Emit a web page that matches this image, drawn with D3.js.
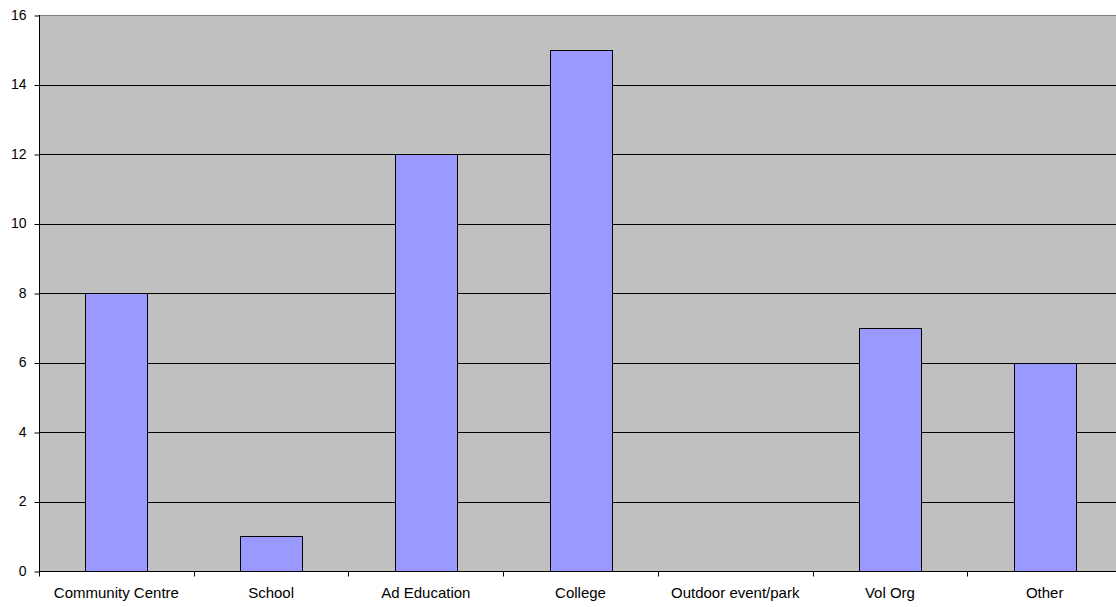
<!DOCTYPE html>
<html><head><meta charset="utf-8">
<script src="https://cdn.jsdelivr.net/npm/d3@7"></script>
<style>body{margin:0;background:#fff;}svg{display:block;}text{font-family:Arial,"Liberation Sans",sans-serif;}</style>
</head><body><svg id="c" width="1116" height="607"></svg>
<script>
const categories = ["Community Centre","School","Ad Education","College","Outdoor event/park","Vol Org","Other"];
const values = [8,1,12,15,0,7,6];
const yTicks = [0,2,4,6,8,10,12,14,16];

const svg = d3.select("#c");
const m = {left:39, right:1122, top:15, bottom:571};
const x = d3.scaleBand().domain(categories).range([m.left, m.right]).paddingInner(0).paddingOuter(0);
const y = d3.scaleLinear().domain([0,16]).range([m.bottom, m.top]);

svg.append("rect").attr("x",m.left).attr("y",m.top).attr("width",m.right-m.left).attr("height",m.bottom-m.top).attr("fill","#C0C0C0");

svg.append("g").selectAll("line").data(yTicks.filter(d=>d>0)).join("line")
  .attr("x1",m.left).attr("x2",m.right).attr("y1",d=>Math.round(y(d))+0.5).attr("y2",d=>Math.round(y(d))+0.5)
  .attr("stroke",d=>d===16?"#808080":"#000").attr("stroke-width",1);

const bw = x.bandwidth()*0.4;
svg.append("g").selectAll("rect").data(categories.map((c,i)=>({c,v:values[i]})).filter(d=>d.v>0)).join("rect")
  .attr("x",d=>Math.round(x(d.c)+x.bandwidth()/2-bw/2)+0.5)
  .attr("y",d=>Math.round(y(d.v))+0.5)
  .attr("width",Math.round(bw))
  .attr("height",d=>Math.round(y(0))-Math.round(y(d.v)))
  .attr("fill","#9999FF").attr("stroke","#000").attr("stroke-width",1);

const ya = d3.axisLeft(y).tickValues(yTicks).tickSize(5).tickPadding(8);
const gy = svg.append("g").attr("transform",`translate(${m.left+0.5},0)`).call(ya);
gy.selectAll(".tick line").attr("transform","translate(0,0.5)");
gy.select(".domain").attr("d",`M0,${m.top}V${m.bottom}`);
gy.selectAll("text").attr("font-size","14px").attr("fill","#000").attr("font-family","Arial,'Liberation Sans',sans-serif");

const xa = d3.axisBottom(x).tickSize(0).tickPadding(16);
const gx = svg.append("g").attr("transform",`translate(0,${m.bottom+0.5})`).call(xa);
gx.select(".domain").attr("d",`M${m.left},0H${m.right}`);
gx.selectAll("text").attr("font-size","15px").attr("fill","#000").attr("font-family","Arial,'Liberation Sans',sans-serif");
const bounds = categories.map(c=>x(c)).concat([m.right]);
gx.append("g").selectAll("line").data(bounds).join("line")
  .attr("x1",d=>Math.round(d)+0.5).attr("x2",d=>Math.round(d)+0.5).attr("y1",0).attr("y2",5).attr("stroke","#000");
</script></body></html>
